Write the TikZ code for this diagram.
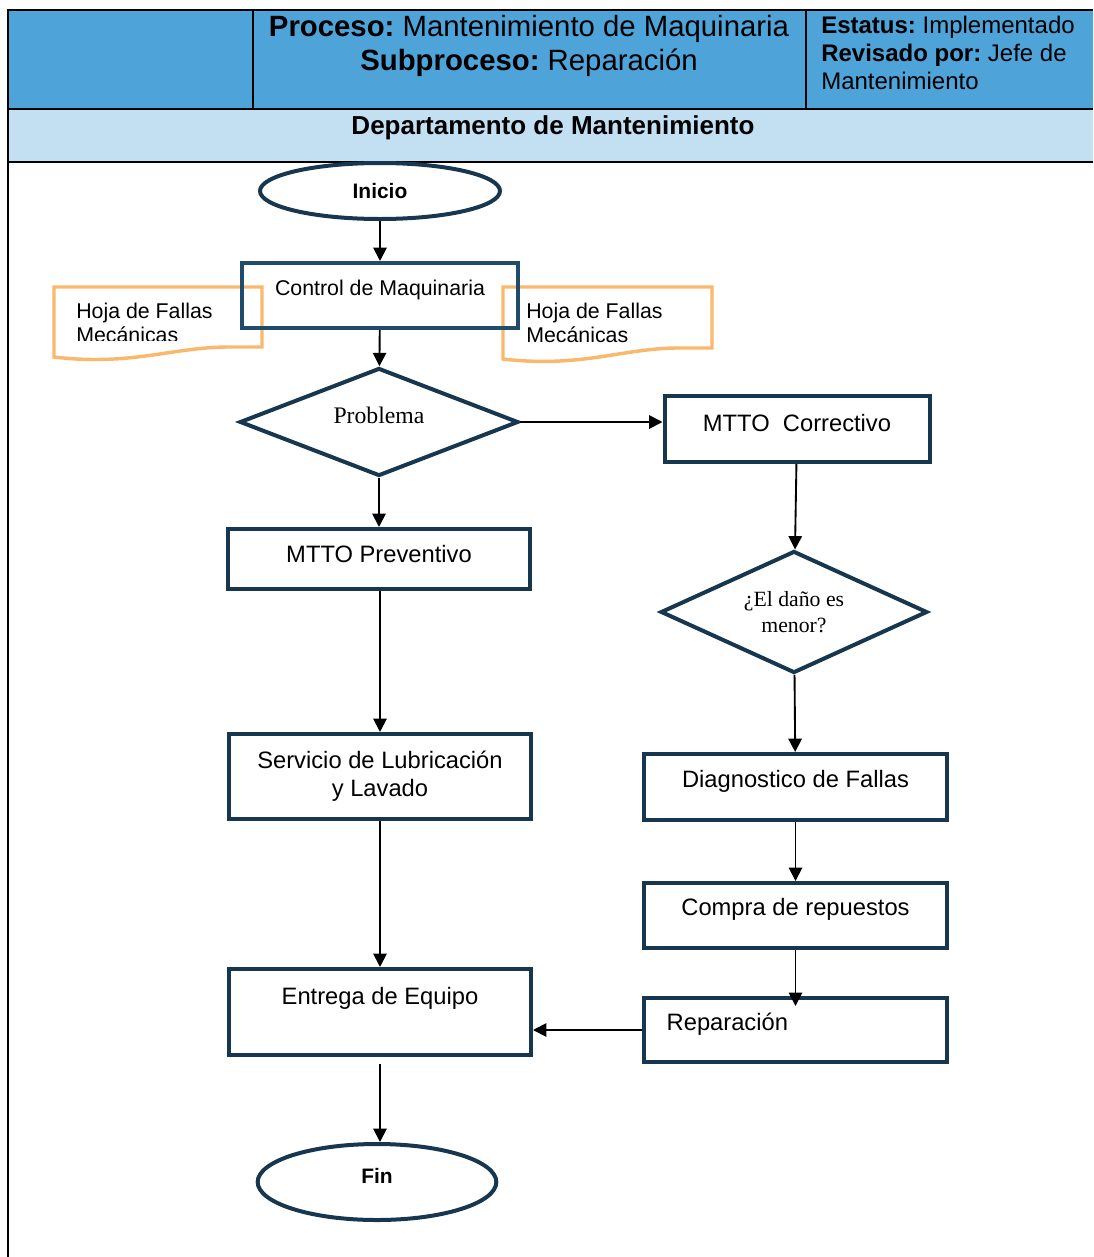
\documentclass[tikz,border=0pt]{standalone}
\usepackage{fontspec}
\setmainfont{Liberation Sans}
\newfontfamily\serifa{Liberation Serif}
\usetikzlibrary{shapes.geometric,arrows.meta}
\definecolor{azulcab}{RGB}{78,163,217}
\definecolor{celeste}{RGB}{194,224,242}
\definecolor{marino}{RGB}{23,54,79}
\definecolor{marinoclaro}{RGB}{31,76,107}
\definecolor{naranja}{RGB}{250,184,108}
\newcommand\chica{\fontsize{16}{18}\selectfont}
\newcommand\grande{\fontsize{17.8}{21}\selectfont}
\begin{document}
\begin{tikzpicture}[x=0.75pt,y=-0.75pt,>={Triangle[length=10pt,width=10pt]},
	caja/.style={rectangle,draw=marino,line width=3pt,inner sep=0pt,font=\grande},
	elipse/.style={ellipse,draw=marino,line width=3pt,inner sep=0pt,font=\fontsize{15.7}{18}\selectfont\bfseries},
	rombo/.style={diamond,draw=marino,line width=3pt,inner sep=0pt},
	hoja/.style={draw=naranja,line width=2.6pt},
	flecha/.style={->,line width=1.4pt}]
		\useasboundingbox (0,0) rectangle (1093,1257);
		% cabecera
		\fill[azulcab] (8,10) rectangle (1093,109);
		\fill[celeste] (8,109) rectangle (1093,162);
		\draw[line width=1.8pt] (1093,10) -- (8,10) -- (8,1257);
		\draw[line width=1.8pt] (8,109) -- (1093,109);
		\draw[line width=1.8pt] (8,162) -- (1093,162);
		\draw[line width=1.5pt] (253,10) -- (253,109);
		\draw[line width=1.5pt] (806,10) -- (806,109);
		\node[anchor=base,inner sep=0pt,font=\fontsize{22}{25.5}\selectfont] (proceso) at (529,36) {\textbf{Proceso:}~Mantenimiento de Maquinaria};
		\node[anchor=base,inner sep=0pt,font=\fontsize{22}{25.5}\selectfont] (subproceso) at (529,70) {\textbf{Subproceso:}~Reparación};
		\node[anchor=north west,inner sep=0pt,align=left,font=\fontsize{18}{21}\selectfont] (estatus) at (821,16) {\textbf{Estatus:}~Implementado\\\textbf{Revisado por:}~Jefe de\\Mantenimiento};
		\node[anchor=base,inner sep=0pt,font=\fontsize{19.5}{22}\selectfont\bfseries] (depto) at (553,134) {Departamento de Mantenimiento};
		% hojas de fallas
		\draw[hoja] (54,287) -- (262,287) -- (262,347) -- (225,347) .. controls (170,348) and (130,366) .. (54,357) -- cycle;
		\draw[hoja] (503,287) -- (712,287) -- (712,348) -- (675,348) .. controls (620,349) and (580,368) .. (503,359) -- cycle;
		\begin{scope}
			\clip (54,287) rectangle (262,340);
			\node[anchor=north west,inner sep=0pt,align=left,font=\chica] (hojaizq) at (76,303) {Hoja de Fallas\\Mecánicas};
		\end{scope}
		\node[anchor=north west,inner sep=0pt,align=left,font=\chica] (hojader) at (526,303) {Hoja de Fallas\\Mecánicas};
		% columna izquierda
		\node[elipse,minimum width=180pt,minimum height=42pt] (inicio) at (380,191) {Inicio};
		\node[caja,draw=marinoclaro,font=\chica,minimum width=207pt,minimum height=48.75pt,text height=12pt,text depth=12pt] (control) at (380,295.5) {Control de Maquinaria};
		\node[rombo,aspect=2.58,minimum width=209pt,minimum height=81pt,text height=12pt,text depth=10.5pt,font=\serifa\fontsize{17.8}{21}\selectfont] (problema) at (379,422) {Problema};
		\node[caja,minimum width=226.5pt,minimum height=45pt,text height=12pt,text depth=6.5pt] (preventivo) at (379,559) {MTTO Preventivo};
		\node[caja,align=center,minimum width=226.5pt,minimum height=63.75pt] (servicio) at (380,776.5) {Servicio de Lubricación\\y Lavado};
		\node[caja,minimum width=226.5pt,minimum height=64.5pt,text height=12pt,text depth=23.2pt] (entrega) at (380,1012) {Entrega de Equipo};
		\node[elipse,minimum width=179pt,minimum height=57pt,text height=12pt,text depth=10pt] (fin) at (377,1182) {Fin};
		% columna derecha
		\node[caja,minimum width=198.75pt,minimum height=49.5pt,text height=12pt,text depth=9pt] (correctivo) at (797,429) {MTTO\ \ Correctivo};
		\node[rombo,aspect=2.19,minimum width=200pt,minimum height=91.5pt,align=center,font=\serifa\fontsize{16.3}{19.5}\selectfont] (dano) at (794,612) {¿El daño es\\menor?};
		\node[caja,minimum width=227.25pt,minimum height=49.5pt,text height=12pt,text depth=12pt] (diagnostico) at (795.5,787) {Diagnostico de Fallas};
		\node[caja,minimum width=227.25pt,minimum height=48.75pt,text height=12pt,text depth=12pt] (compra) at (795.5,915.5) {Compra de repuestos};
		\node[caja,minimum width=227.25pt,minimum height=48pt,text height=12pt,text depth=12pt,inner xsep=17pt,text width=193.25pt,align=left] (reparacion) at (795.5,1030) {Reparación};
		% flechas
		\draw[flecha] (inicio) -- (control);
		\draw[flecha] (control) -- (problema);
		\draw[flecha] (problema.east) -- (problema.east -| correctivo.west);
		\draw[flecha] (problema) -- (preventivo);
		\draw[flecha] (preventivo.south -| servicio.north) -- (servicio.north);
		\draw[flecha] (servicio) -- (entrega);
		\draw[flecha] ([yshift=-5pt]entrega.south) -- (entrega.south |- fin.north);
		\draw[flecha] (correctivo) -- (dano);
		\draw[flecha] (dano) -- (diagnostico);
		\draw[flecha] (diagnostico) -- (compra);
		\draw[flecha] (compra.south) -- ([yshift=-7.5pt]reparacion.north);
		\draw[flecha] (reparacion.west) -- (reparacion.west -| entrega.east);
\end{tikzpicture}
\end{document}
